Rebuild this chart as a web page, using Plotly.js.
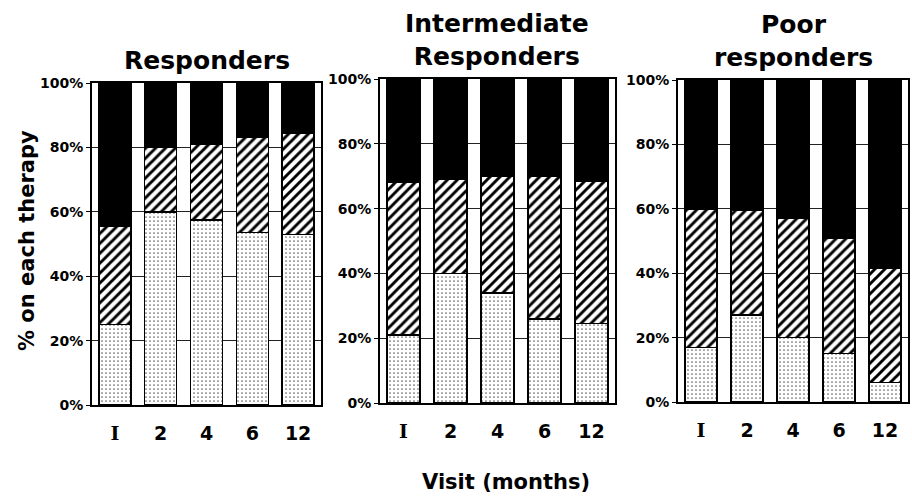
<!DOCTYPE html>
<html><head><meta charset="utf-8">
<script src="https://cdn.plot.ly/plotly-3.0.1.min.js"></script>
<style>body{margin:0;background:#fff}#c{width:912px;height:498px}</style>
</head><body><div id="c"></div>
<script>
const visits = ['I', '2', '4', '6', '12'];
const tickLabels = ['<span style="font-family:DejaVu Serif">I</span>', '2', '4', '6', '12'];
const yTickVals = [0, 20, 40, 60, 80, 100];
const yTickText = ['0%', '20%', '40%', '60%', '80%', '100%'];
const panelTitles = ['Responders', 'Intermediate<br>Responders', 'Poor<br>responders'];
// segment values (% of patients) per visit
const respDotted = [25, 60, 57.5, 53.5, 53];
const respHatched = [30.5, 20, 23.5, 29.5, 31.5];
const respBlack = [44.5, 20, 19, 17, 15.5];
const interDotted = [21, 40, 34, 26, 24.5];
const interHatched = [47, 29, 36, 44, 44];
const interBlack = [32, 31, 30, 30, 31.5];
const poorDotted = [17, 27, 20, 15, 6];
const poorHatched = [43, 32.5, 37, 36, 35.5];
const poorBlack = [40, 40.5, 43, 49, 58.5];

const panels = [
  [respDotted, respHatched, respBlack],
  [interDotted, interHatched, interBlack],
  [poorDotted, poorHatched, poorBlack]
];

const W = 912, H = 498;
const xDom = [[92, 321], [380, 615], [678, 908]];
const yPix = [[83, 405], [79, 403], [80, 402]];

const line = {color: 'black', width: 1.5};
const styles = [
  {color: 'white', line: line, pattern: {shape: '.', fgcolor: '#666', bgcolor: 'white', size: 4, solidity: 0.15}},
  {color: 'white', line: line, pattern: {shape: '/', fgcolor: 'black', bgcolor: 'white', size: 7, solidity: 0.42}},
  {color: 'black', line: line}
];

const traces = [];
panels.forEach((series, p) => {
  series.forEach((vals, s) => {
    traces.push({
      type: 'bar', x: visits, y: vals,
      xaxis: 'x' + (p === 0 ? '' : p + 1), yaxis: 'y' + (p === 0 ? '' : p + 1),
      marker: styles[s], showlegend: false, hoverinfo: 'skip'
    });
  });
});

const FAM = 'DejaVu Sans, Arial, sans-serif';
const layout = {
  width: W, height: H, margin: {l: 0, r: 0, t: 0, b: 0},
  paper_bgcolor: 'white', plot_bgcolor: 'white',
  barmode: 'stack', bargap: 0.3, showlegend: false,
  font: {family: FAM, color: 'black'}, annotations: []
};
panels.forEach((_, p) => {
  const sfx = p === 0 ? '' : String(p + 1);
  layout['xaxis' + sfx] = {
    domain: [xDom[p][0] / W, xDom[p][1] / W], anchor: 'y' + sfx,
    type: 'category', tickmode: 'array', tickvals: visits, ticktext: tickLabels,
    showline: true, linecolor: 'black', linewidth: 2, mirror: true,
    ticks: '', ticklabelstandoff: 10,
    tickfont: {family: FAM, size: 19, color: 'black', weight: 'bold'},
    showgrid: false, fixedrange: true
  };
  layout['yaxis' + sfx] = {
    domain: [1 - yPix[p][1] / H, 1 - yPix[p][0] / H], anchor: 'x' + sfx,
    range: [0, 100], tickmode: 'array', tickvals: yTickVals, ticktext: yTickText,
    showline: true, linecolor: 'black', linewidth: 2, mirror: true,
    ticks: 'outside', ticklen: 4, tickcolor: 'black',
    tickfont: {family: FAM, size: 14, color: 'black', weight: 'bold'},
    showgrid: true, gridcolor: '#222', gridwidth: 1, zeroline: false, fixedrange: true
  };
  layout.annotations.push({
    xref: 'paper', yref: 'paper',
    x: (xDom[p][0] + xDom[p][1]) / 2 / W, y: 1 - (yPix[p][0] - 6) / H,
    xanchor: 'center', yanchor: 'bottom', showarrow: false,
    text: panelTitles[p],
    font: {family: FAM, size: 25, color: 'black', weight: 'bold'}
  });
});
layout.annotations.push({
  xref: 'paper', yref: 'paper', x: 27 / W, y: 1 - 241 / H, textangle: -90,
  xanchor: 'center', yanchor: 'middle', showarrow: false, text: '% on each therapy',
  font: {family: FAM, size: 21, color: 'black', weight: 'bold'}
});
layout.annotations.push({
  xref: 'paper', yref: 'paper', x: 506 / W, y: 1 - 482 / H,
  xanchor: 'center', yanchor: 'middle', showarrow: false, text: 'Visit (months)',
  font: {family: FAM, size: 21, color: 'black', weight: 'bold'}
});

Plotly.newPlot('c', traces, layout, {staticPlot: true});
</script></body></html>
